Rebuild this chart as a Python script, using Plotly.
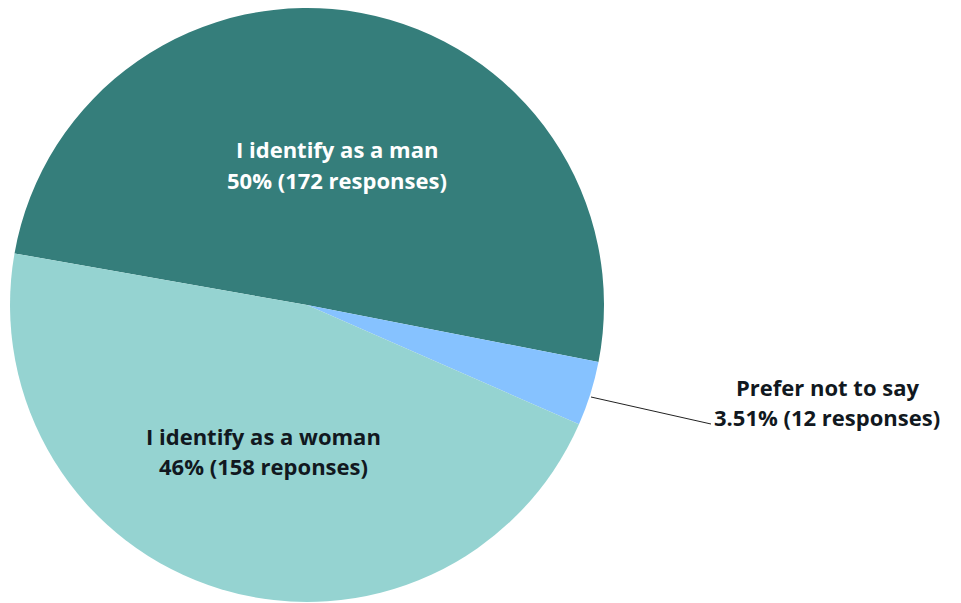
import plotly.graph_objects as go

categories = ["I identify as a man", "Prefer not to say", "I identify as a woman"]
responses = [172, 12, 158]
label_line1 = ["I identify as a man", "Prefer not to say", "I identify as a woman"]
label_line2 = ["50% (172 responses)", "3.51% (12 responses)", "46% (158 reponses)"]
colors = ["#357E7B", "#86C2FF", "#95D3D1"]

W, H = 961, 603
def px(x):
    return x / W
def py(y):
    return 1 - y / H

fig = go.Figure(go.Pie(
    labels=categories,
    values=responses,
    sort=False,
    direction="clockwise",
    rotation=-80,
    marker=dict(colors=colors, line=dict(width=0)),
    textinfo="none",
    hoverinfo="label+value+percent",
    domain=dict(x=[0, 614 / W], y=[1 / H, 595 / H]),
    showlegend=False,
))

font_family = "Open Sans, Noto Sans, sans-serif"
# (index, center x, line1 y, line2 y, colour)
placements = [
    (0, 336.5, 149, 180, "white"),
    (2, 263, 436, 466, "#111820"),
    (1, 827, 387, 417, "#111820"),
]
for i, cx, y1, y2, col in placements:
    for txt, yy in ((label_line1[i], y1), (label_line2[i], y2)):
        fig.add_annotation(
            text="<b>" + txt + "</b>",
            x=px(cx), y=py(yy), xref="paper", yref="paper",
            xanchor="center", yanchor="middle", showarrow=False,
            font=dict(family=font_family, size=22, color=col),
        )

fig.add_shape(type="line", xref="paper", yref="paper",
              x0=px(591), y0=py(397), x1=px(711), y1=py(424),
              line=dict(color="#222222", width=1))

fig.update_layout(
    width=W, height=H,
    margin=dict(l=0, r=0, t=0, b=0),
    paper_bgcolor="white",
    plot_bgcolor="white",
)

fig.write_html("out.html", config={"displayModeBar": False},
               post_script="document.body.style.margin='0';")
